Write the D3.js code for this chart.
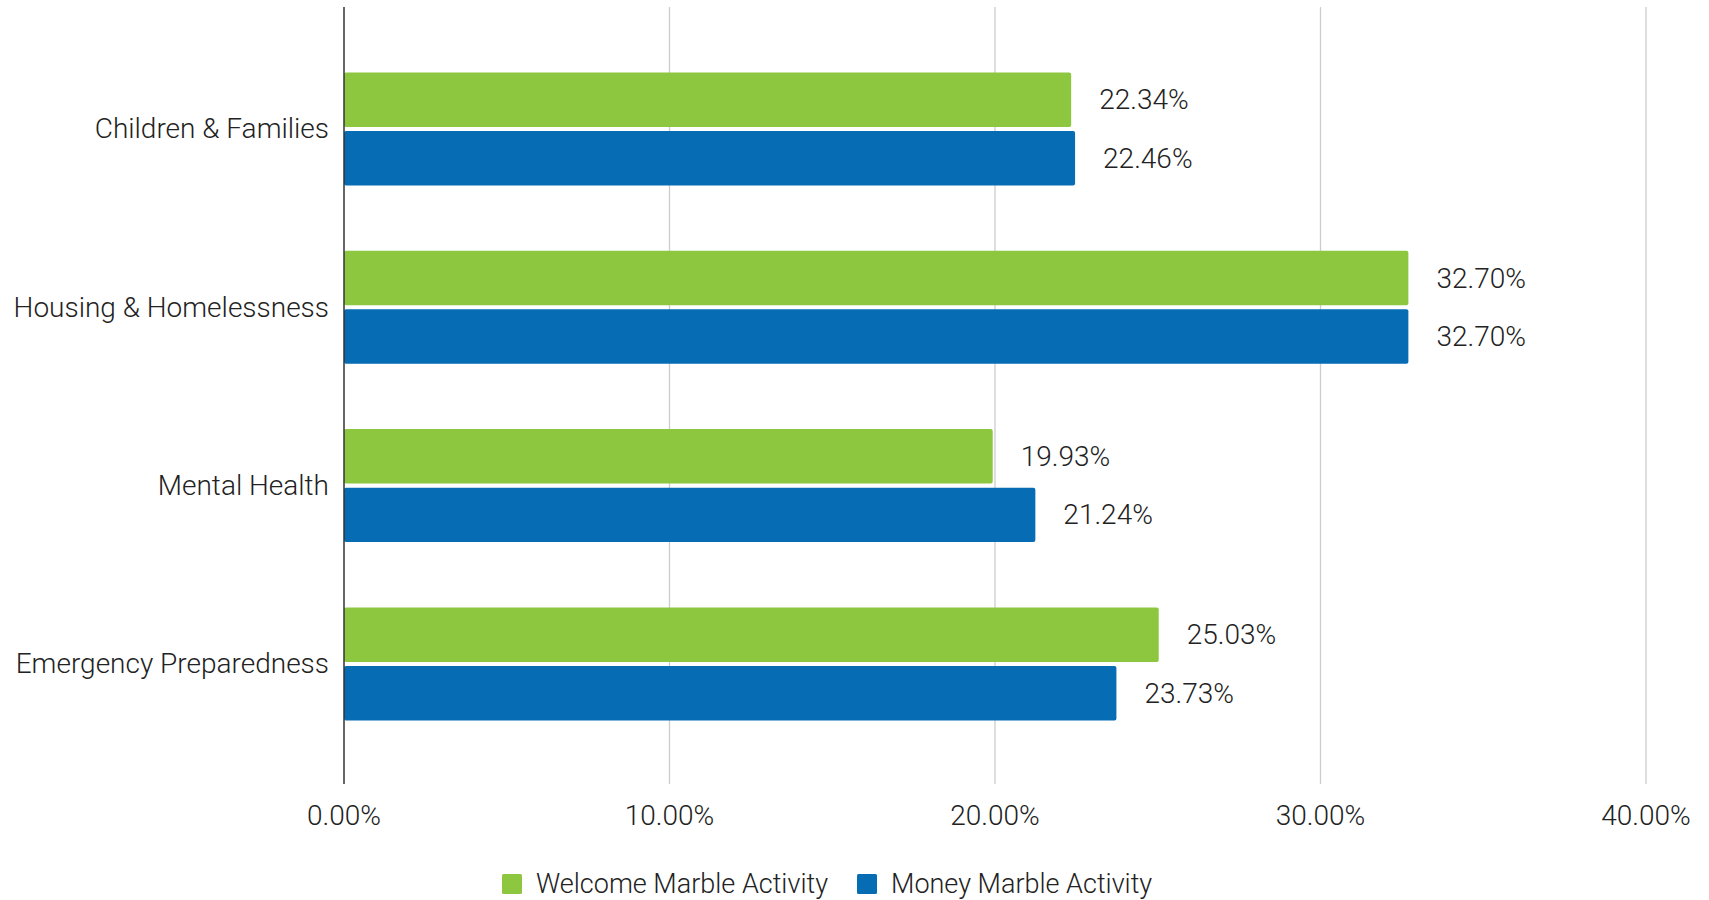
<!DOCTYPE html>
<html>
<head>
<meta charset="utf-8">
<script src="https://cdn.jsdelivr.net/npm/d3@7"></script>
<style>
  body { margin: 0; background: #fff; }
  svg text { font-family: Roboto, "Liberation Sans", Arial, sans-serif; font-weight: 300; fill: #222; }
</style>
</head>
<body>
<div id="chart"></div>
<script>
const categories = ["Children & Families", "Housing & Homelessness", "Mental Health", "Emergency Preparedness"];
const seriesNames = ["Welcome Marble Activity", "Money Marble Activity"];
const welcomeValues = [22.34, 32.70, 19.93, 25.03];
const moneyValues = [22.46, 32.70, 21.24, 23.73];
const xTicks = [0, 10, 20, 30, 40];
const colors = ["#8dc63f", "#066cb4"];

var width = 1709, height = 900;
var fontSize = 27;
var labelSize = 28;

const svg = d3.select("#chart").append("svg")
    .attr("width", width)
    .attr("height", height);

var plotTop = 7, plotBottom = 784;

var x = d3.scaleLinear()
    .domain([0, 40])
    .range([344, 1646]);

var y = d3.scaleBand()
    .domain(categories)
    .range([39.8, 753.1]);

var groupH = 113;
var ySub = d3.scaleBand()
    .domain(seriesNames)
    .range([0, groupH])
    .paddingInner(0.07);

// gridlines
svg.append("g")
    .selectAll("line")
    .data(xTicks.slice(1))
    .enter()
    .append("line")
    .attr("x1", d => x(d))
    .attr("x2", d => x(d))
    .attr("y1", plotTop)
    .attr("y2", plotBottom)
    .attr("stroke", "#cccccc")
    .attr("stroke-width", 1.3);

// tick labels
svg.append("g")
    .selectAll("text")
    .data(xTicks)
    .enter()
    .append("text")
    .attr("x", d => x(d))
    .attr("y", 815)
    .attr("text-anchor", "middle")
    .attr("dominant-baseline", "central")
    .style("font-size", labelSize + "px")
    .text(d => d.toFixed(2) + "%");

var rows = categories.map(function(c, i) {
    return {cat: c, vals: [welcomeValues[i], moneyValues[i]]};
});

var groups = svg.selectAll(".grp")
    .data(rows)
    .enter()
    .append("g")
    .attr("class", "grp")
    .attr("transform", d => "translate(0," + (y(d.cat) + (y.bandwidth() - groupH) / 2) + ")");

groups.selectAll("rect")
    .data(d => d.vals.map((v, j) => ({name: seriesNames[j], v: v, j: j})))
    .enter()
    .append("rect")
    .attr("x", x(0))
    .attr("y", d => ySub(d.name))
    .attr("width", d => x(d.v) - x(0))
    .attr("height", ySub.bandwidth())
    .attr("rx", 2)
    .attr("fill", d => colors[d.j]);

groups.selectAll(".val")
    .data(d => d.vals.map((v, j) => ({name: seriesNames[j], v: v})))
    .enter()
    .append("text")
    .attr("class", "val")
    .attr("x", d => x(d.v) + 28)
    .attr("y", d => ySub(d.name) + ySub.bandwidth() / 2)
    .attr("dominant-baseline", "central")
    .style("font-size", labelSize + "px")
    .text(d => d.v.toFixed(2) + "%");

// category labels
svg.append("g")
    .selectAll("text")
    .data(categories)
    .enter()
    .append("text")
    .attr("x", 329)
    .attr("y", d => y(d) + y.bandwidth() / 2)
    .attr("text-anchor", "end")
    .attr("dominant-baseline", "central")
    .style("font-size", labelSize + "px")
    .text(d => d);

// axis line
svg.append("line")
    .attr("x1", x(0)).attr("x2", x(0))
    .attr("y1", plotTop).attr("y2", plotBottom)
    .attr("stroke", "#333")
    .attr("stroke-width", 1.5);

// legend
var lx = 502, ly = 884;
seriesNames.forEach(function(name, i) {
    svg.append("rect")
        .attr("x", lx)
        .attr("y", ly - 10)
        .attr("width", 20)
        .attr("height", 20)
        .attr("rx", 1.5)
        .attr("fill", colors[i]);
    var t = svg.append("text")
        .attr("x", lx + 34)
        .attr("y", ly)
        .attr("dominant-baseline", "central")
        .style("font-size", fontSize + "px")
        .text(name);
    lx = lx + 34 + t.node().getComputedTextLength() + 29;
});
</script>
</body>
</html>
